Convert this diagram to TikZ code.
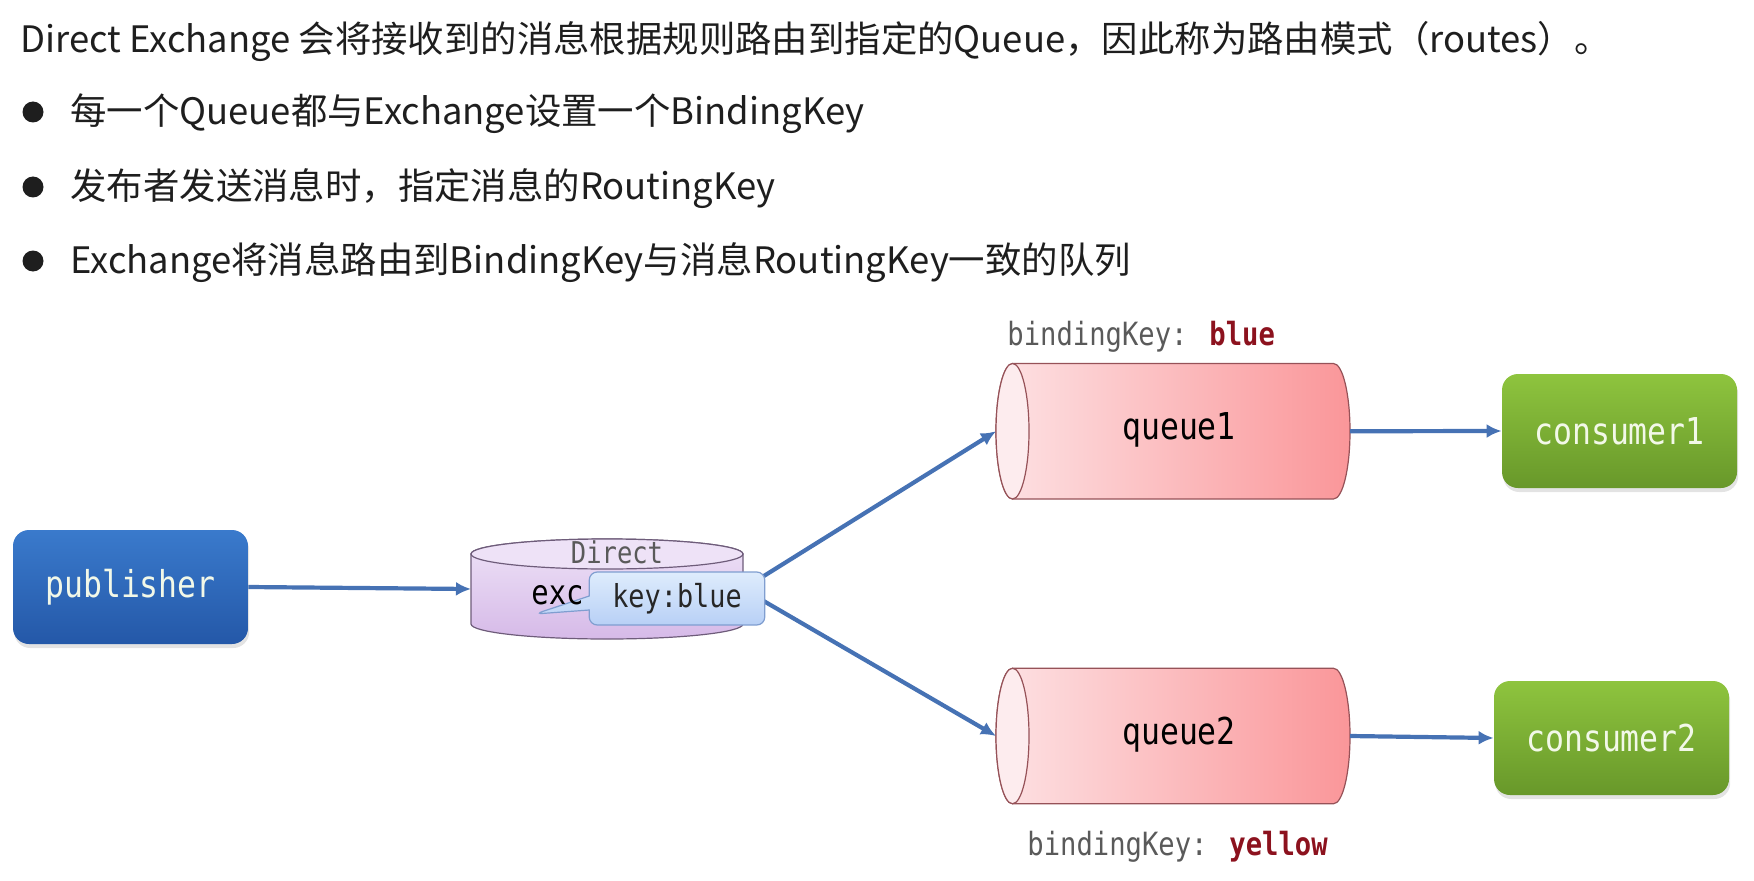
\documentclass[tikz,border=0pt]{standalone}
\usepackage{fontspec}
\setmainfont{Noto Sans CJK SC}
\newfontfamily\codefont[FakeStretch=0.85]{DejaVu Sans Mono}
\usepackage{xcolor}
\usepackage{tikz}
\usetikzlibrary{arrows.meta,calc,shapes.callouts,shadows}
\definecolor{TextoGris}{RGB}{30,30,30}
\definecolor{FlechaAzul}{RGB}{70,114,180}
\definecolor{PubTop}{RGB}{58,122,204}
\definecolor{PubBottom}{RGB}{36,88,168}
\definecolor{ConTop}{RGB}{142,196,62}
\definecolor{ConBottom}{RGB}{104,152,42}
\definecolor{BoxText}{RGB}{242,248,232}
\definecolor{QueueLeft}{RGB}{253,226,228}
\definecolor{QueueRight}{RGB}{250,150,153}
\definecolor{QueueFace}{RGB}{253,236,238}
\definecolor{QueueLine}{RGB}{150,82,88}
\definecolor{ExTop}{RGB}{238,226,247}
\definecolor{ExBottom}{RGB}{214,186,232}
\definecolor{ExLine}{RGB}{110,92,122}
\definecolor{KeyTop}{RGB}{222,236,252}
\definecolor{KeyBottom}{RGB}{184,208,246}
\definecolor{KeyLine}{RGB}{128,158,208}
\definecolor{KeyGray}{RGB}{90,90,90}
\definecolor{KeyRed}{RGB}{140,18,30}

% horizontal queue drawn from the anchors of its node
\newcommand\drawtube[1]{%
  \shadedraw[left color=QueueLeft,right color=QueueRight,draw=QueueLine,line width=0.6pt]
    ($(#1.north west)+(16.5,0)$) -- ($(#1.north east)+(-16.5,0)$)
    arc[start angle=90,end angle=-90,x radius=8.25pt,y radius=33.875pt]
    -- ($(#1.south west)+(16.5,0)$)
    arc[start angle=270,end angle=90,x radius=8.25pt,y radius=33.875pt] -- cycle;
  \draw[QueueLine,fill=QueueFace,line width=0.6pt] ($(#1.west)+(16.5,0)$) ellipse[x radius=8.25pt,y radius=33.875pt];
}

\begin{document}
\begin{tikzpicture}[x=0.5pt,y=0.5pt,>=Latex,
  item/.style={anchor=west,inner sep=0pt,text=TextoGris,font=\fontsize{18.2}{22}\selectfont},
  dot/.style={circle,fill=TextoGris,inner sep=0pt,minimum size=10.5pt},
  box/.style={rounded corners=8pt,minimum width=117.5pt,minimum height=57pt,text=BoxText,
    font=\codefont\fontsize{18.5}{22}\selectfont,
    drop shadow={opacity=0.22,shadow xshift=0.6pt,shadow yshift=-2pt}},
  tube/.style={inner sep=0pt,outer sep=0pt,minimum width=177pt,minimum height=67.75pt,
    font=\codefont\fontsize{18.5}{22}\selectfont},
  bkey/.style={anchor=west,inner sep=0pt,text=KeyGray,font=\codefont\fontsize{16}{19}\selectfont},
  flow/.style={-{Latex[length=7.5pt,width=7pt]},line width=2.1pt,draw=FlechaAzul}]
  \useasboundingbox (0,0) rectangle (1754,880);

  % text above the diagram
  \node[item] (title) at (20,839) {Direct Exchange 会将接收到的消息根据规则路由到指定的Queue，因此称为路由模式（routes）。};
  \node[dot] (d1) at (33,768) {};
  \node[dot] (d2) at (33,693) {};
  \node[dot] (d3) at (33,619) {};
  \node[item] (t1) at (70,766) {每一个Queue都与Exchange设置一个BindingKey};
  \node[item] (t2) at (70,691) {发布者发送消息时，指定消息的RoutingKey};
  \node[item] (t3) at (70,617) {Exchange将消息路由到BindingKey与消息RoutingKey一致的队列};

  % nodes
  \node[box,top color=PubTop,bottom color=PubBottom] (pub) at (130.5,293) {publisher};
  \node[inner sep=0pt,outer sep=0pt,minimum width=136pt,minimum height=50pt] (ex) at (607,291) {};
  \node[tube] (q1) at (1173,448.75) {};
  \node[tube] (q2) at (1173,144) {};
  \node[box,top color=ConTop,bottom color=ConBottom] (c1) at (1619.5,449) {consumer1};
  \node[box,top color=ConTop,bottom color=ConBottom] (c2) at (1611.5,142) {consumer2};

  % exchange cylinder
  \shadedraw[top color=ExTop,bottom color=ExBottom,draw=ExLine,line width=0.6pt]
    ($(ex.north west)+(0,-15)$) -- ($(ex.south west)+(0,15)$)
    arc[start angle=180,end angle=360,x radius=68pt,y radius=7.5pt]
    -- ($(ex.north east)+(0,-15)$)
    arc[start angle=0,end angle=180,x radius=68pt,y radius=7.5pt] -- cycle;
  \draw[ExLine,fill=ExTop,line width=0.6pt] ($(ex.north)+(0,-15)$) ellipse[x radius=68pt,y radius=7.5pt];
  \node[text=KeyGray,font=\codefont\fontsize{15}{18}\selectfont] (direct) at (617,328) {Direct};

  % queues
  \drawtube{q1}
  \drawtube{q2}
  \node[font=\codefont\fontsize{18.5}{22}\selectfont] (q1t) at (1179,450.5) {queue1};
  \node[font=\codefont\fontsize{18.5}{22}\selectfont] (q2t) at (1179,145) {queue2};
  \node[bkey] (bk1) at (1007,543) {bindingKey: \textcolor{KeyRed}{\bfseries blue}};
  \node[bkey] (bk2) at (1027,33) {bindingKey: \textcolor{KeyRed}{\bfseries yellow}};

  % connectors
  \draw[flow] (pub.east) -- (ex.west);
  \draw[flow] (ex.east) -- (q1.west);
  \draw[flow] (ex.east) -- (q2.west);
  \draw[flow] (q1.east) -- (c1.west);
  \draw[flow] (q2.east) -- (c2.west);

  % routing key callout
  \coordinate (tip) at (535,266);
  \node[rectangle callout,callout absolute pointer={(tip)},callout pointer width=7pt,
    rounded corners=4pt,top color=KeyTop,bottom color=KeyBottom,draw=KeyLine,line width=0.6pt,
    inner sep=0pt,minimum width=87.75pt,minimum height=26.5pt,text=black!85,
    font=\codefont\fontsize{15.8}{19}\selectfont] (key) at (677,281.5) {key:blue};
  \node[anchor=west,inner sep=0pt,font=\codefont\fontsize{17}{20}\selectfont] (exc) at (531,285) {exc};
\end{tikzpicture}
\end{document}
